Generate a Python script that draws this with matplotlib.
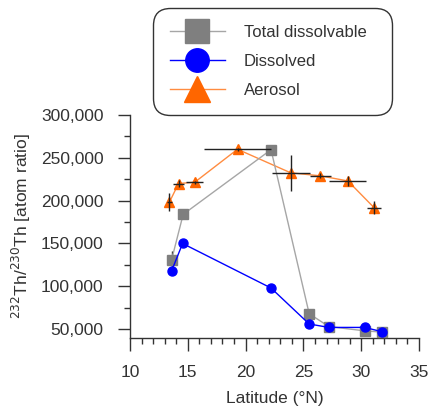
import matplotlib
matplotlib.use("Agg")
import matplotlib.pyplot as plt
from matplotlib.ticker import MultipleLocator, FuncFormatter

plt.rcParams['font.family'] = ['Liberation Sans', 'DejaVu Sans']

# Total dissolvable
td_lat = [13.6, 14.6, 22.2, 25.5, 27.2, 30.3, 31.8]
td_val = [131000, 184000, 259500, 68000, 53000, 48000, 46500]
td_yerr = [10000, 3000, 4000, 3000, 2000, 2000, 2000]

# Dissolved
dis_lat = [13.6, 14.55, 22.2, 25.5, 27.2, 30.3, 31.8]
dis_val = [118000, 150000, 98000, 56000, 52000, 52000, 47000]

# Aerosol
aer_lat = [13.4, 14.2, 15.6, 19.3, 23.9, 26.45, 28.85, 31.1]
aer_val = [198000, 220000, 221500, 260000, 232500, 229000, 223000, 192000]
aer_xerr = [0.2, 0.45, 0.75, 2.9, 1.65, 0.9, 1.6, 0.6]
aer_yerr = [10500, 4000, 2000, 2000, 21000, 3000, 6000, 7500]

fig = plt.figure(figsize=(4.35, 4.13), dpi=100)
ax = fig.add_axes([130/435, 1-337.7/413, (419-130)/435, (337.7-115)/413])

gray_line = '#a6a6a6'
gray_mk = '#7f7f7f'
blue = '#0000ff'
orange_line = '#ff8c40'
orange_mk = '#ff6600'
axis_col = '#333333'

ax.errorbar(td_lat, td_val, yerr=td_yerr, fmt='none', ecolor='#222222', elinewidth=1.0, capsize=0, zorder=2)

l1, = ax.plot(td_lat, td_val, color=gray_line, lw=1.0, marker='s', ms=6.5,
              mfc=gray_mk, mec=gray_mk, zorder=3, label='Total dissolvable')
l2, = ax.plot(dis_lat, dis_val, color=blue, lw=1.0, marker='o', ms=6.5,
              mfc=blue, mec=blue, zorder=4, label='Dissolved')
l3, = ax.plot(aer_lat, aer_val, color=orange_line, lw=1.0, marker='^', ms=7,
              mfc=orange_mk, mec=orange_mk, zorder=1.5, label='Aerosol')

# error bars drawn over aerosol markers (cross appearance)
ax.errorbar(aer_lat, aer_val, xerr=aer_xerr, yerr=aer_yerr, fmt='none', ecolor='#222222', elinewidth=1.0, capsize=0, zorder=3.5)

ax.set_xlim(10, 35)
ax.set_ylim(40000, 300000)
ax.spines['top'].set_visible(False)
ax.spines['right'].set_visible(False)
for s in ('left', 'bottom'):
    ax.spines[s].set_color(axis_col)
    ax.spines[s].set_linewidth(1.0)

ax.xaxis.set_major_locator(MultipleLocator(5))
ax.xaxis.set_minor_locator(MultipleLocator(1))
ax.set_yticks([50000, 100000, 150000, 200000, 250000, 300000])
ax.yaxis.set_minor_locator(MultipleLocator(25000))
ax.yaxis.set_major_formatter(FuncFormatter(lambda v, p: f'{int(v):,}'))
ax.tick_params(which='major', direction='out', length=9, width=1.0, color=axis_col,
               labelsize=12.5, labelcolor='#333333')
ax.tick_params(which='minor', direction='out', length=4.5, width=1.0, color=axis_col)
ax.tick_params(axis='y', which='major', pad=10)
ax.tick_params(axis='x', which='major', pad=11)

ax.set_xlabel('Latitude (°N)', fontsize=12.5, color='#333333', labelpad=7.5)
ax.set_ylabel('$^{232}$Th/$^{230}$Th [atom ratio]', fontsize=12.5, color='#333333', labelpad=6)

leg = fig.legend(handles=[l1, l2, l3], loc='upper left',
                 bbox_to_anchor=(153/435, 1-115/413, (392-153)/435, (115-8)/413),
                 mode='expand', borderaxespad=0, fontsize=12, markerscale=2.6,
                 handlelength=3.3, handletextpad=1.15, labelspacing=0.85,
                 borderpad=1.0, fancybox=True, framealpha=1, edgecolor='#333333')
leg.get_frame().set_linewidth(1.0)
leg.get_frame().set_boxstyle('round', pad=0, rounding_size=1.0)
for t in leg.get_texts():
    t.set_color('#333333')

fig.savefig('out.png', dpi=100)
